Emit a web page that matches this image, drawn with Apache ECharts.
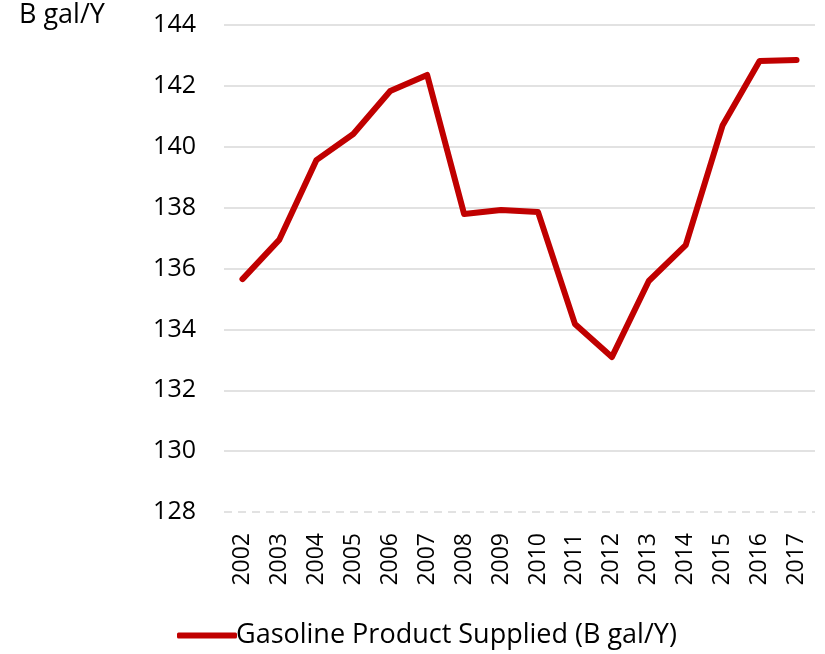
<!DOCTYPE html>
<html><head><meta charset="utf-8">
<script src="https://cdn.jsdelivr.net/npm/echarts@6/dist/echarts.min.js"></script>
<style>html,body{margin:0;padding:0;background:#fff}#c{width:825px;height:654px}</style>
</head><body><div id="c"></div>
<script>
const years = ['2002','2003','2004','2005','2006','2007','2008','2009','2010','2011','2012','2013','2014','2015','2016','2017'];
const gasoline = [135.65,136.95,139.56,140.42,141.83,142.36,137.79,137.92,137.86,134.18,133.09,135.59,136.77,140.71,142.82,142.85];
const yTicks = {min:128, max:144, interval:2};
const seriesName = 'Gasoline Product Supplied (B gal/Y)';
const unitLabel = 'B gal/Y';
const FONT = '"Open Sans", "Noto Sans", sans-serif';
const chart = echarts.init(document.getElementById('c'));
chart.setOption({
  animation:false,
  textStyle:{fontFamily:FONT},
  grid:{left:224,right:10,top:25,bottom:142},
  graphic:[{type:'text',left:19,top:2,style:{text:unitLabel,font:'27px '+FONT,fill:'#000'}}],
  legend:{bottom:0,left:172,itemWidth:60,itemHeight:6,itemGap:4,
    icon:'roundRect',
    textStyle:{fontSize:27,color:'#000',fontFamily:FONT,padding:[0,0,0,-6]},
    data:[{name:seriesName}]},
  xAxis:{type:'category',data:years,boundaryGap:true,
    axisLine:{show:false},axisTick:{show:false},
    axisLabel:{rotate:90,fontSize:23,color:'#000',margin:21,interval:0,fontFamily:FONT}},
  yAxis:{type:'value',min:yTicks.min,max:yTicks.max,interval:yTicks.interval,
    axisLine:{show:false},axisTick:{show:false},
    axisLabel:{fontSize:25,color:'#000',margin:28,fontFamily:FONT},
    splitLine:{showMinLine:false,lineStyle:{color:'#d9d9d9',width:1.5}}},
  series:[{name:seriesName,type:'line',data:gasoline,symbol:'none',
    lineStyle:{color:'#C00000',width:6,cap:'round',join:'round'},itemStyle:{color:'#C00000'}},
    {type:'line',data:[],markLine:{silent:true,symbol:'none',label:{show:false},
      lineStyle:{color:'#d9d9d9',type:[8,6],width:1.5},data:[{yAxis:128}]}}]
});
</script></body></html>
